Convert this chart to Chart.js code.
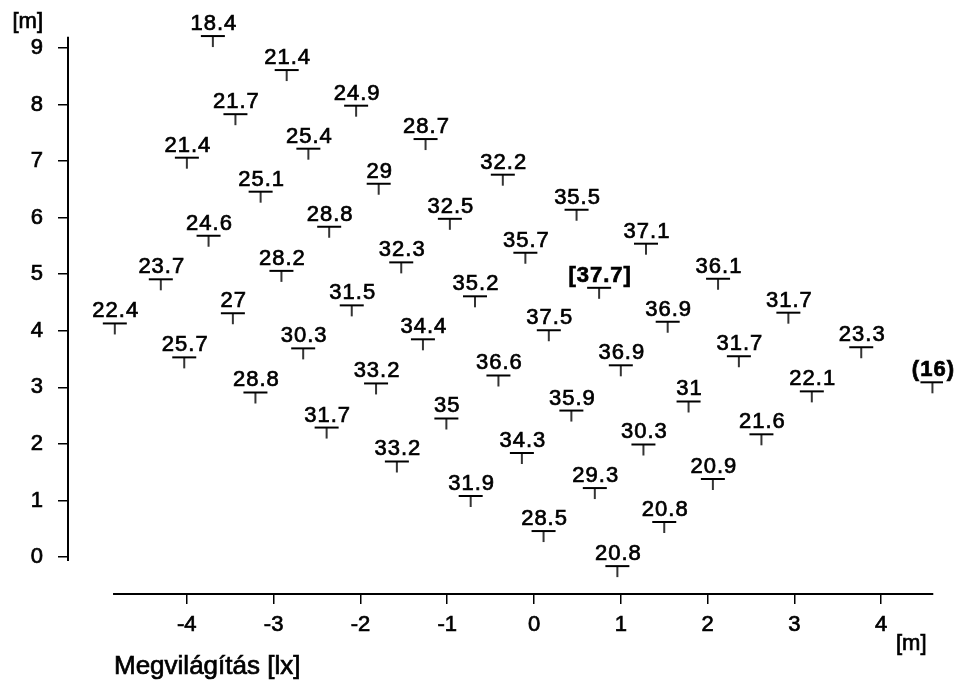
<!DOCTYPE html>
<html>
<head>
<meta charset="utf-8">
<script src="https://cdn.jsdelivr.net/npm/chart.js@4/dist/chart.umd.min.js"></script>
<style>
  body { margin: 0; background: #fff; }
</style>
</head>
<body>
<canvas id="myChart" width="957" height="683"></canvas>
<script>
// measuring points: position [m] and illuminance [lx]
const xPos = [-3.70, -2.85, -2.05, -1.25, -0.36, 0.49, 1.29, 2.12, 2.93, 3.77, 4.59,
              -3.44, -2.60, -1.79, -0.97, -0.10, 0.75, 1.54, 2.36, 3.20,
              -4.00, -3.15, -2.36, -1.53, -0.68, 0.17, 1.00, 1.78, 2.62,
              -3.75, -2.91, -2.10, -1.28, -0.41, 0.43, 1.26, 2.06,
              -4.30, -3.47, -2.66, -1.82, -1.01, -0.14, 0.70, 1.50,
              -4.83, -4.03, -3.21, -2.39, -1.58, -0.73, 0.11, 0.96];
const yPos = [9.21, 8.61, 7.98, 7.39, 6.76, 6.14, 5.54, 4.92, 4.32, 3.71, 3.09,
              7.83, 7.22, 6.60, 5.98, 5.38, 4.76, 4.16, 3.55, 2.93,
              7.06, 6.46, 5.84, 5.21, 4.61, 4.01, 3.39, 2.75, 2.17,
              5.68, 5.06, 4.45, 3.85, 3.21, 2.59, 1.99, 1.38,
              4.91, 4.31, 3.69, 3.07, 2.45, 1.84, 1.22, 0.62,
              4.13, 3.53, 2.91, 2.29, 1.69, 1.08, 0.46, -0.16];
const lux = [18.4, 21.4, 24.9, 28.7, 32.2, 35.5, 37.1, 36.1, 31.7, 23.3, 16,
             21.7, 25.4, 29, 32.5, 35.7, 37.7, 36.9, 31.7, 22.1,
             21.4, 25.1, 28.8, 32.3, 35.2, 37.5, 36.9, 31, 21.6,
             24.6, 28.2, 31.5, 34.4, 36.6, 35.9, 30.3, 20.9,
             23.7, 27, 30.3, 33.2, 35, 34.3, 29.3, 20.8,
             22.4, 25.7, 28.8, 31.7, 33.2, 31.9, 28.5, 20.8];
const xTicks = [-4, -3, -2, -1, 0, 1, 2, 3, 4];
const yTicks = [0, 1, 2, 3, 4, 5, 6, 7, 8, 9];

const maxLux = Math.max(...lux);
const minLux = Math.min(...lux);
function luxText(v) {
  if (v === maxLux) return '[' + v + ']';
  if (v === minLux) return '(' + v + ')';
  return String(v);
}

// "T" shaped marker, point sits on the cross bar
const tMark = document.createElement('canvas');
tMark.width = 26; tMark.height = 26;
(function () {
  const c = tMark.getContext('2d');
  c.strokeStyle = '#000';
  c.lineWidth = 2;
  c.beginPath(); c.moveTo(1, 13); c.lineTo(25, 13); c.stroke();
  c.lineWidth = 1.6;
  c.beginPath(); c.moveTo(13, 13); c.lineTo(13, 24); c.stroke();
})();

const FONT = '"Liberation Sans", Arial, sans-serif';

function heavyText(ctx, t, x, y) {
  ctx.fillText(t, x, y);
  ctx.strokeText(t, x, y);
}

const extras = {
  id: 'extras',
  afterDraw(chart) {
    const {ctx, chartArea, scales: {x, y}} = chart;
    ctx.save();
    ctx.strokeStyle = '#000';
    ctx.lineWidth = 2;
    ctx.beginPath();
    ctx.moveTo(chartArea.left, y.getPixelForValue(9.2));
    ctx.lineTo(chartArea.left, y.getPixelForValue(-0.07));
    ctx.moveTo(x.getPixelForValue(-4.85), chartArea.bottom);
    ctx.lineTo(x.getPixelForValue(4.6), chartArea.bottom);
    ctx.stroke();

    ctx.fillStyle = '#000';
    ctx.lineWidth = 0.7;
    ctx.textBaseline = 'middle';
    ctx.font = '22px ' + FONT;
    ctx.textAlign = 'right';
    heavyText(ctx, '[m]', 43, 22);
    ctx.textAlign = 'left';
    heavyText(ctx, '[m]', 896, 644);
    ctx.font = '26px ' + FONT;
    heavyText(ctx, 'Megvilágítás [lx]', 114, 667);

    // value labels above each marker
    const meta = chart.getDatasetMeta(0);
    ctx.textAlign = 'center';
    ctx.textBaseline = 'alphabetic';
    ctx.letterSpacing = '1px';
    meta.data.forEach((pt, i) => {
      const t = luxText(lux[i]);
      const special = t !== String(lux[i]);
      ctx.font = (special ? 'bold ' : '') + '22px ' + FONT;
      heavyText(ctx, t, pt.x + 1, pt.y - 6);
    });
    ctx.restore();
  }
};

const ctx = document.getElementById('myChart');

new Chart(ctx, {
  type: 'scatter',
  data: {
    datasets: [{
      data: xPos.map((v, i) => ({x: v, y: yPos[i]})),
      pointStyle: tMark,
      pointRadius: 13,
      pointHoverRadius: 13,
      borderColor: '#000',
      backgroundColor: '#000'
    }]
  },
  options: {
    responsive: false,
    animation: false,
    events: [],
    layout: {padding: {top: 13, right: 11, left: 0, bottom: 0}},
    plugins: {legend: {display: false}, tooltip: {enabled: false}},
    scales: {
      x: {
        type: 'linear',
        min: -5.369,
        max: 4.712,
        afterFit: s => { s.height = 89; s.paddingLeft = 0; s.paddingRight = 0; },
        afterBuildTicks: s => { s.ticks = xTicks.map(v => ({value: v})); },
        border: {display: false},
        grid: {drawOnChartArea: false, tickLength: 10, color: '#000', lineWidth: 1.5},
        ticks: {color: '#000', font: {family: FONT, size: 22}, padding: 8, maxRotation: 0, autoSkip: false,
                textStrokeColor: '#000', textStrokeWidth: 0.7}
      },
      y: {
        type: 'linear',
        min: -0.653,
        max: 9.6,
        afterFit: s => { s.width = 68; s.paddingTop = 0; s.paddingBottom = 0; },
        afterBuildTicks: s => { s.ticks = yTicks.map(v => ({value: v})); },
        border: {display: false},
        grid: {drawOnChartArea: false, tickLength: 10, color: '#000', lineWidth: 1.5},
        ticks: {color: '#000', font: {family: FONT, size: 22}, padding: 15, autoSkip: false,
                textStrokeColor: '#000', textStrokeWidth: 0.7}
      }
    }
  },
  plugins: [extras]
});
</script>
</body>
</html>
